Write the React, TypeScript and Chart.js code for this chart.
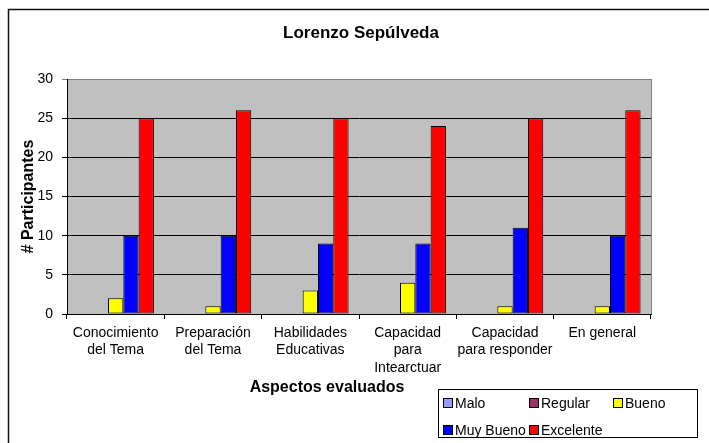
import React, { useEffect, useRef } from 'react';
import { Chart, registerables } from 'chart.js';
Chart.register(...registerables);

const TITLE = 'Lorenzo Sepúlveda';
const X_TITLE = 'Aspectos evaluados';
const Y_TITLE = '# Participantes';
const categories = [
  ['Conocimiento', 'del Tema'],
  ['Preparación', 'del Tema'],
  ['Habilidades', 'Educativas'],
  ['Capacidad', 'para', 'Intearctuar'],
  ['Capacidad', 'para responder'],
  ['En general'],
];
const seriesNames = ['Malo', 'Regular', 'Bueno', 'Muy Bueno', 'Excelente'];
const malo = [0, 0, 0, 0, 0, 0];
const regular = [0, 0, 0, 0, 0, 0];
const bueno = [2, 1, 3, 4, 1, 1];
const muyBueno = [10, 10, 9, 9, 11, 10];
const excelente = [25, 26, 25, 24, 25, 26];
const yMin = 0;
const yMax = 30;
const yStep = 5;
const seriesColors = ['#9999FF', '#993366', '#FFFF00', '#0000FF', '#FF0000'];

const FONT = '"Liberation Sans", Arial, Helvetica, sans-serif';

const framePlugin = {
  id: 'frame',
  beforeDraw(chart: any) {
    const { ctx, chartArea: a } = chart;
    ctx.save();
    ctx.fillStyle = '#ffffff';
    ctx.fillRect(0, 0, chart.width, chart.height);
    ctx.strokeStyle = '#111';
    ctx.lineWidth = 1.5;
    ctx.strokeRect(8.5, 9.5, chart.width + 20, chart.height + 20);
    ctx.fillStyle = '#C0C0C0';
    ctx.fillRect(a.left, a.top, a.right - a.left, a.bottom - a.top);
    ctx.restore();
  },
  beforeDatasetsDraw(chart: any) {
    const { ctx, chartArea: a } = chart;
    ctx.save();
    ctx.strokeStyle = '#808080';
    ctx.lineWidth = 1;
    ctx.beginPath();
    ctx.moveTo(a.right + 0.5, a.top);
    ctx.lineTo(a.right + 0.5, a.bottom);
    ctx.stroke();
    ctx.restore();
  },
  afterDraw(chart: any) {
    const { ctx } = chart;
    ctx.save();
    ctx.fillStyle = '#000';
    ctx.textAlign = 'center';
    ctx.textBaseline = 'alphabetic';
    // chart title
    ctx.font = `bold 17px ${FONT}`;
    ctx.fillText(TITLE, 361, 38);
    // x axis title
    ctx.font = `bold 16px ${FONT}`;
    ctx.fillText(X_TITLE, 327, 392);
    // legend
    const bx = 438.5, by = 389.5, bw = 259, bh = 48;
    ctx.strokeStyle = '#000';
    ctx.lineWidth = 1;
    ctx.strokeRect(bx, by, bw, bh);
    const colX = [443, 529, 613];
    const rowY = [403, 430];
    ctx.font = `14px ${FONT}`;
    ctx.textAlign = 'left';
    ctx.textBaseline = 'middle';
    chart.data.datasets.forEach((ds: any, i: number) => {
      const x = colX[i % 3];
      const cy = rowY[Math.floor(i / 3)];
      ctx.fillStyle = ds.backgroundColor;
      ctx.fillRect(x, cy - 5, 10, 10);
      ctx.strokeStyle = '#000';
      ctx.strokeRect(x + 0.5, cy - 4.5, 9, 9);
      ctx.fillStyle = '#000';
      ctx.fillText(ds.label, x + 12, cy + 1);
    });
    ctx.restore();
  },
};

export default function App() {
  const ref = useRef<HTMLCanvasElement>(null);
  useEffect(() => {
    document.body.style.margin = '0';
    const canvas = ref.current!;
    const data = [malo, regular, bueno, muyBueno, excelente];
    const chart = new Chart(canvas, {
      type: 'bar',
      data: {
        labels: categories,
        datasets: seriesNames.map((name, i) => ({
          label: name,
          data: data[i],
          backgroundColor: seriesColors[i],
          borderColor: '#000',
          borderWidth: (c: any) => (c.raw === 0 ? 0 : 1),
          borderSkipped: false,
          categoryPercentage: 0.786,
          barPercentage: 1,
        })),
      },
      options: {
        responsive: false,
        animation: false,
        devicePixelRatio: 1,
        layout: { padding: { left: 0, right: 58, top: 79, bottom: 0 } },
        plugins: {
          legend: { display: false },
          tooltip: { enabled: false },
          title: { display: false },
        },
        scales: {
          x: {
            afterFit: (s: any) => { s.height = 129; },
            ticks: {
              color: '#000',
              font: { family: FONT, size: 14, lineHeight: 1.25 },
              maxRotation: 0,
              autoSkip: false,
              padding: 5,
            },
            grid: {
              drawOnChartArea: false,
              drawTicks: true,
              tickLength: 5,
              color: '#000',
              offset: true,
            },
            border: { display: true, color: '#000', width: 1 },
          },
          y: {
            min: yMin,
            max: yMax,
            afterFit: (s: any) => { s.width = 67; },
            ticks: {
              stepSize: yStep,
              color: '#000',
              font: { family: FONT, size: 14 },
              padding: 9,
            },
            grid: {
              color: (c: any) => (c.tick && c.tick.value === yMax ? '#808080' : '#000'),
              tickLength: 5,
              drawTicks: true,
            },
            border: { display: true, color: '#000', width: 1 },
            title: {
              display: true,
              text: Y_TITLE,
              color: '#000',
              font: { family: FONT, size: 16, weight: 'bold' },
              padding: { top: 19, bottom: 0 },
            },
          },
        },
      },
      plugins: [framePlugin],
    } as any);
    return () => chart.destroy();
  }, []);
  return <canvas ref={ref} width={709} height={443} style={{ display: 'block', width: 709, height: 443 }} />;
}
